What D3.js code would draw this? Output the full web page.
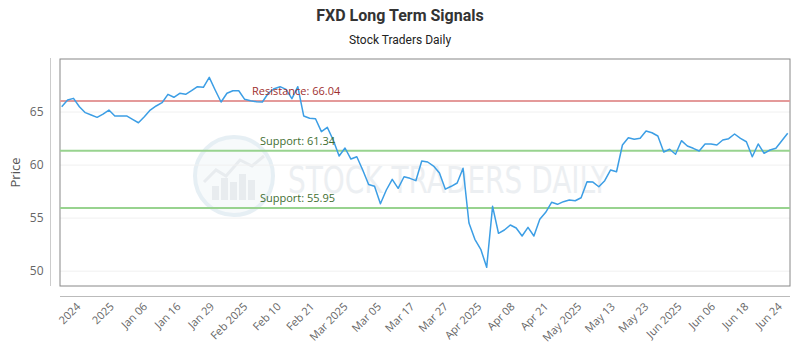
<!DOCTYPE html>
<html>
<head>
<meta charset="utf-8">
<script src="https://cdn.jsdelivr.net/npm/d3@7"></script>
<style>
  body { margin: 0; background: #fff; }
  svg { display: block; font-family: "Open Sans", sans-serif; }
</style>
</head>
<body>
<svg width="800" height="350"></svg>
<script>
// FXD closing prices, Dec 2024 - Jun 2025
const prices = [
  65.50, 66.13, 66.29, 65.50, 64.94, 64.72, 64.50, 64.81, 65.19, 64.63,
  64.63, 64.63, 64.31, 63.99, 64.56, 65.19, 65.57, 65.88, 66.67, 66.39,
  66.77, 66.67, 67.01, 67.39, 67.33, 68.27, 67.08, 65.95, 66.77, 67.01,
  67.01, 66.20, 66.07, 65.97, 65.95, 66.77, 67.20, 67.39, 67.14, 66.26,
  67.39, 64.63, 64.41, 64.37, 63.15, 63.56, 62.36, 60.86, 61.61, 60.57,
  60.79, 59.54, 58.17, 58.00, 56.36, 57.65, 58.66, 57.81, 58.90, 58.75,
  58.53, 60.38, 60.29, 59.91, 59.25, 57.73, 58.00, 58.31, 59.70, 54.54,
  53.00, 52.06, 50.36, 56.11, 53.57, 53.88, 54.35, 54.07, 53.31, 54.13,
  53.31, 54.89, 55.55, 56.49, 56.30, 56.55, 56.71, 56.64, 56.92, 58.43,
  58.40, 57.96, 58.53, 59.54, 59.37, 61.89, 62.58, 62.43, 62.52, 63.21,
  63.05, 62.74, 61.23, 61.49, 61.02, 62.30, 61.80, 61.58, 61.33, 61.99,
  61.99, 61.89, 62.36, 62.49, 62.93, 62.52, 62.20, 60.79, 61.99, 61.11,
  61.42, 61.58, 62.30, 63.00
];

const tickLabels = [
  "2024", "2025", "Jan 06", "Jan 16", "Jan 29", "Feb 2025", "Feb 10", "Feb 21",
  "Mar 2025", "Mar 05", "Mar 17", "Mar 27", "Apr 2025", "Apr 08", "Apr 21",
  "May 2025", "May 13", "May 23", "Jun 2025", "Jun 06", "Jun 18", "Jun 24"
];

const yTicks = [50, 55, 60, 65];

const levels = [
  { name: "Resistance", value: 66.04, line: "#e49a9a", text: "#9e2f2f", dx: 252 },
  { name: "Support", value: 61.34, line: "#98d38f", text: "#3f6f32", dx: 260 },
  { name: "Support", value: 55.95, line: "#98d38f", text: "#3f6f32", dx: 260 }
];

const svg = d3.select("svg");
const plot = { left: 60, right: 790, top: 59, bottom: 286 };

const x = d3.scalePoint()
    .domain(d3.range(prices.length))
    .range([61.7, 787.7]);

const y = d3.scaleLinear()
    .domain([48.6, 70])
    .range([plot.bottom, plot.top]);

const xTick = d3.scalePoint()
    .domain(tickLabels)
    .range([78, 779.5]);

// titles
svg.append("text")
    .attr("x", 400).attr("y", 21)
    .attr("text-anchor", "middle")
    .style("font-family", "Roboto, sans-serif")
    .style("font-weight", "bold")
    .style("font-size", "16px")
    .attr("fill", "#333")
    .text("FXD Long Term Signals");

svg.append("text")
    .attr("x", 400).attr("y", 44)
    .attr("text-anchor", "middle")
    .style("font-family", "Roboto, sans-serif")
    .style("font-size", "12px")
    .attr("fill", "#222")
    .text("Stock Traders Daily");

// watermark
const wm = svg.append("g").attr("opacity", 0.55);
wm.append("circle")
    .attr("cx", 234).attr("cy", 176).attr("r", 39)
    .attr("fill", "#f2f6f9")
    .attr("stroke", "#d3e2ec")
    .attr("stroke-width", 4);
wm.selectAll("rect.wb")
  .data([14, 22, 18, 26, 20])
  .join("rect")
    .attr("x", (d, i) => 212 + i * 9)
    .attr("y", d => 200 - d)
    .attr("width", 7)
    .attr("height", d => d)
    .attr("fill", "#d6dde2");
wm.append("path")
    .attr("d", "M204,182 L216,170 L226,176 L240,160 L252,166 L264,156")
    .attr("fill", "none")
    .attr("stroke", "#d6dde2")
    .attr("stroke-width", 3);
wm.append("text")
    .attr("x", 288).attr("y", 193)
    .attr("textLength", 320)
    .attr("lengthAdjust", "spacingAndGlyphs")
    .style("font-family", "'DejaVu Sans Condensed', 'DejaVu Sans', sans-serif")
    .style("font-size", "38px")
    .attr("fill", "#dde3e8")
    .text("STOCK TRADERS DAILY");

// grid
svg.append("g")
  .selectAll("line")
  .data(yTicks)
  .join("line")
    .attr("x1", plot.left).attr("x2", plot.right)
    .attr("y1", d => y(d)).attr("y2", d => y(d))
    .attr("stroke", "#f0f0f0");

// plot frame
svg.append("rect")
    .attr("x", plot.left).attr("y", plot.top)
    .attr("width", plot.right - plot.left)
    .attr("height", plot.bottom - plot.top)
    .attr("fill", "none")
    .attr("stroke", "#888");

// y axis
const yAxis = svg.append("g")
    .attr("transform", "translate(50.5,0)")
    .call(d3.axisLeft(y).tickValues(yTicks).tickSize(0).tickPadding(7));
yAxis.select(".domain").attr("stroke", "#ccc").attr("d", `M0,${plot.top - 1}V${plot.bottom}`);
yAxis.selectAll("text")
    .style("font-family", "'Open Sans', sans-serif")
    .style("font-size", "12px")
    .attr("fill", "#666");

svg.append("text")
    .attr("transform", `translate(20,${(plot.top + plot.bottom) / 2}) rotate(-90)`)
    .attr("text-anchor", "middle")
    .style("font-size", "13px")
    .attr("fill", "#555")
    .text("Price");

// x axis
const xAxis = svg.append("g")
    .attr("transform", "translate(0,296.5)")
    .call(d3.axisBottom(xTick).tickSize(0).tickPadding(0));
xAxis.select(".domain").attr("stroke", "#bbb").attr("d", `M${plot.left},0H${plot.right}`);
xAxis.selectAll("text")
    .style("font-family", "'Open Sans', sans-serif")
    .style("font-size", "11px")
    .attr("fill", "#666")
    .attr("text-anchor", "end")
    .attr("dy", "0.35em")
    .attr("transform", "translate(0,8) rotate(-45)");

// level lines
svg.append("g")
  .selectAll("line")
  .data(levels)
  .join("line")
    .attr("x1", plot.left).attr("x2", plot.right)
    .attr("y1", d => y(d.value)).attr("y2", d => y(d.value))
    .attr("stroke", d => d.line)
    .attr("stroke-width", 2);

// price line
svg.append("path")
    .datum(prices)
    .attr("fill", "none")
    .attr("stroke", "#3c9ee5")
    .attr("stroke-width", 1.5)
    .attr("stroke-linejoin", "round")
    .attr("d", d3.line().x((d, i) => x(i)).y(d => y(d)));

// level labels
svg.append("g")
  .selectAll("text")
  .data(levels)
  .join("text")
    .attr("x", d => d.dx)
    .attr("y", d => y(d.value) - 10)
    .attr("dy", "0.35em")
    .style("font-size", "11px")
    .attr("fill", d => d.text)
    .text(d => `${d.name}: ${d.value.toFixed(2)}`);
</script>
</body>
</html>
